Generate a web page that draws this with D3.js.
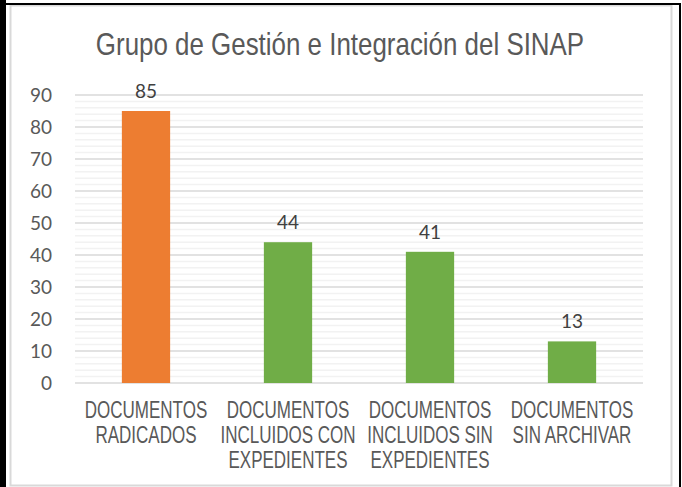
<!DOCTYPE html>
<html><head><meta charset="utf-8">
<script src="https://cdn.jsdelivr.net/npm/d3@7"></script>
<style>body{margin:0;background:#fff}svg{display:block}</style>
</head><body>
<script>
const categories = [
  ["DOCUMENTOS","RADICADOS"],
  ["DOCUMENTOS","INCLUIDOS CON","EXPEDIENTES"],
  ["DOCUMENTOS","INCLUIDOS SIN","EXPEDIENTES"],
  ["DOCUMENTOS","SIN ARCHIVAR"]
];
const values = [85, 44, 41, 13];
const barColors = ["#ED7D31", "#70AD47", "#70AD47", "#70AD47"];
const yTicks = [0,10,20,30,40,50,60,70,80,90];
const title = "Grupo de Gestión e Integración del SINAP";

(function(){
const W = 682, H = 487;
const svg = d3.select("body").append("svg").attr("width", W).attr("height", H);
svg.append("rect").attr("width", W).attr("height", H).attr("fill", "#fff");

// outer frames
svg.append("rect").attr("x", 10.5).attr("y", 5.5).attr("width", 661).attr("height", 480)
  .attr("fill", "#fff").attr("stroke", "#d9d9d9").attr("stroke-width", 2);
svg.append("rect").attr("x", 0).attr("y", 0).attr("width", 6).attr("height", H).attr("fill", "#000");
svg.append("rect").attr("x", 0).attr("y", 3).attr("width", 681).attr("height", 2).attr("fill", "#000");
svg.append("rect").attr("x", 679).attr("y", 3).attr("width", 2).attr("height", H).attr("fill", "#000");

const pl = 75, pr = 643, pt = 95, pb = 383;
const x = d3.scaleBand().domain(d3.range(categories.length)).range([pl, pr]).paddingInner(0.66).paddingOuter(0.33);
const y = d3.scaleLinear().domain([0, 90]).range([pb, pt]);

// grid
const g = svg.append("g");
g.selectAll("line.minor").data(d3.range(0, 91, 2).filter(v => v % 10 !== 0)).enter().append("line")
  .attr("x1", pl).attr("x2", pr).attr("y1", d => y(d)).attr("y2", d => y(d))
  .attr("stroke", "#f2f2f2").attr("stroke-width", 1.5);
g.selectAll("line.major").data(yTicks).enter().append("line")
  .attr("x1", pl).attr("x2", pr).attr("y1", d => y(d)).attr("y2", d => y(d))
  .attr("stroke", "#d9d9d9").attr("stroke-width", 1.5);

// y axis labels
const yAxis = d3.axisLeft(y).tickValues(yTicks).tickSize(0).tickPadding(0);
const ya = svg.append("g").attr("transform", `translate(52,0)`).call(yAxis);
ya.select(".domain").remove();
ya.selectAll("text").attr("font-family", "Lato, 'Open Sans', sans-serif").attr("font-size", 19).attr("fill", "#595959").attr("dy", "0.35em");

// bars
svg.selectAll("rect.bar").data(values).enter().append("rect")
  .attr("x", (d, i) => x(i)).attr("width", x.bandwidth())
  .attr("y", d => y(d)).attr("height", d => y(0) - y(d))
  .attr("fill", (d, i) => barColors[i]);

// data labels
svg.selectAll("text.lbl").data(values).enter().append("text")
  .attr("x", (d, i) => x(i) + x.bandwidth() / 2).attr("y", d => y(d) - 13)
  .attr("text-anchor", "middle").attr("font-family", "Lato, 'Open Sans', sans-serif")
  .attr("font-size", 19).attr("fill", "#404040").text(d => d);

// category labels (condensed by horizontal scaling)
const narrow = 0.74;
const cat = svg.selectAll("text.cat").data(categories).enter().append("text")
  .attr("transform", (d, i) => `translate(${x(i) + x.bandwidth() / 2},0) scale(${narrow},1)`)
  .attr("text-anchor", "middle").attr("font-family", "'Liberation Sans', Arial, sans-serif")
  .attr("font-size", 23).attr("fill", "#595959");
cat.each(function(lines) {
  d3.select(this).selectAll("tspan").data(lines).enter().append("tspan")
    .attr("x", 0).attr("y", (l, j) => 418 + j * 25).text(l => l);
});

// title
svg.append("text").attr("transform", `translate(340,55) scale(0.81,1)`).attr("text-anchor", "middle")
  .attr("font-family", "'Liberation Sans', Arial, sans-serif")
  .attr("font-size", 32).attr("fill", "#595959").text(title);
})();
</script>
</body></html>
